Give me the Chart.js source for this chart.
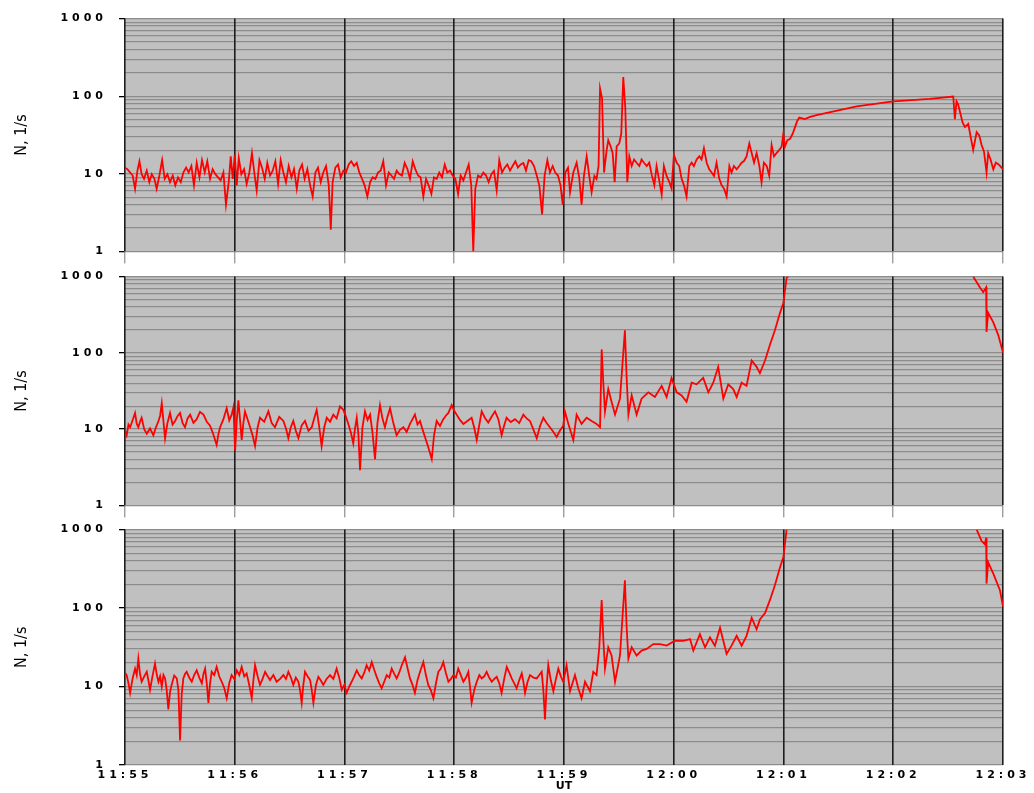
<!DOCTYPE html>
<html lang="en">
<head>
<meta charset="UTF-8" />
<title>N, 1/s  11:55 - 12:03 UT</title>
<script src="https://cdn.jsdelivr.net/npm/chart.js@4"></script>
<style>
  body { margin: 0; background: #fff; }
  .wrap { position: relative; width: 1034px; height: 793px; }
  .panel { position: absolute; left: 0; width: 1034px; }
  #p1 { top: 0; height: 270px; }
  #p2 { top: 258px; height: 266px; }
  #p3 { top: 511px; height: 282px; }
</style>
</head>
<body>
<div class="wrap">
  <div class="panel" id="p1"><canvas id="c1"></canvas></div>
  <div class="panel" id="p2"><canvas id="c2"></canvas></div>
  <div class="panel" id="p3"><canvas id="c3"></canvas></div>
</div>
<script>
// time axis: seconds after 11:55:00 UT
const xTickLabels = ['11:55', '11:56', '11:57', '11:58', '11:59', '12:00', '12:01', '12:02', '12:03'];
const yTickLabels = ['1', '10', '100', '1000'];
const yTitle = 'N, 1/s';
const decadeSteps = [1, 2, 3, 4, 5, 6, 7, 8, 9];
const decades = [1, 10, 100];

// [seconds, count rate N (1/s)]
const panel1 = [
  [0,12],[1.3,11.5],[2.8,10.4],[4.2,9.5],[5.5,6.4],[6.8,11],[7.9,14.5],[9.1,9.9],[10.4,8.6],[11.9,11],
  [13.3,7.8],[14.6,9.9],[16.1,8.6],[17.3,6.4],[18.8,9.5],[20.3,15],[21.7,8.6],[23.2,9.9],[24.6,7.8],[26.1,9.5],
  [27.5,7.1],[29,9],[30.5,7.8],[31.9,10.4],[33.4,12],[34.8,10.4],[36.3,12.6],[37.7,7.1],[39.2,13.8],[40.7,9],
  [42.1,15],[43.6,10.4],[45,14.5],[46.5,8.6],[47.9,11.5],[49.4,9.9],[50.9,9],[52.3,8.2],[53.8,10.4],[55.2,4],
  [56.7,7.8],[57.8,16.8],[58.9,8.6],[60,17.6],[61.1,7.1],[62.2,16],[63.6,9.9],[65.1,11.5],[66.5,7.4],[68,10.4],
  [69.4,18.5],[70.9,9.5],[72,6.1],[73.5,15],[74.9,12],[76.4,8.6],[77.8,13.8],[79.3,9.5],[80.7,10.9],[82.2,14.5],
  [83.7,7.4],[85.1,15],[86.6,10.4],[88,7.8],[89.5,12.6],[91,9],[92.4,11.5],[93.9,6.4],[95.3,11],[96.8,13.2],
  [98.2,8.6],[99.7,11.5],[101.2,7.1],[102.6,5.1],[104.1,10.4],[105.5,12],[107,7.8],[108.4,10.4],[109.9,12.6],[111.4,7.1],
  [112.5,1.9],[113.5,7.8],[115,12],[116.5,13.2],[117.9,9],[119.4,11],[120.8,10.4],[122.3,13.2],[123.7,14.5],[125.2,12.6],
  [126.7,13.8],[128.1,10.4],[129.6,8.6],[131,7.1],[132.5,5.1],[134,7.8],[135.4,9],[136.9,8.6],[138.3,10.4],[139.8,11],
  [141.2,14.5],[142.7,7.1],[144.2,10.4],[145.6,9.5],[147.1,8.6],[148.5,11],[150,9.9],[151.4,9.5],[152.9,13.8],[154.4,11.5],
  [155.8,8.6],[157.3,14.5],[158.7,11.5],[160.2,9.5],[161.6,9],[163.1,5.1],[164.6,8.6],[166,7.1],[167.5,5.5],[168.9,9],
  [170.4,8.6],[171.8,10.4],[173.3,9],[174.8,13.2],[176.2,10.4],[177.7,11],[179.1,9.5],[180.6,8.6],[182.1,5.5],[183.5,9.5],
  [185,8.2],[186.4,10.4],[187.9,13.2],[189.3,7.1],[190.4,1],[191.5,6.4],[193,9.5],[194.4,9],[195.9,10.4],[197.4,9.5],
  [198.8,7.8],[200.3,9.9],[201.7,10.9],[203.2,6.1],[204.6,15],[206.1,10.4],[207.6,12],[209,13.2],[210.5,11],[211.9,12.6],
  [213.4,14.5],[214.8,12],[216.3,13.2],[217.8,13.8],[219.2,11],[220.7,15],[222.1,14.5],[223.6,12.6],[225.1,9.5],[226.5,7.1],
  [228,3],[229.4,9.5],[230.9,15],[232.3,10.4],[233.8,12.6],[235.2,10.4],[236.7,9.5],[238.1,7.1],[239.3,4],[240.7,10.4],
  [242.2,12],[243.3,5.8],[245.1,10.4],[246.9,13.9],[248.4,8.6],[249.6,4],[250.9,9.4],[252.4,16.8],[253.8,9.4],[255.1,5.8],
  [256.6,9.4],[257.8,8.6],[258.9,12.6],[259.7,126],[260.8,94],[261.9,10.4],[263.3,20],[264.2,27.1],[265.5,22.5],[266.6,18.5],
  [267.7,7.8],[268.8,22.5],[270.2,24.6],[271.3,32.8],[272.4,176],[273.5,71],[274.6,7.8],[275.7,16.8],[277,12.6],[278.3,15.3],
  [279.7,13.9],[281.2,12.6],[282.4,15.3],[283.7,13.9],[285.2,12.6],[286.6,13.9],[288.1,9.4],[289.4,7.1],[290.6,12.6],[291.9,8.6],
  [293.4,5.4],[294.6,12.6],[296.1,9.4],[297.6,7.8],[298.8,6.5],[300.1,17.6],[301.6,13.9],[303,12.6],[304.3,8.6],[305.6,7.1],
  [307,5.1],[308.5,12.6],[309.8,13.9],[311,12.6],[312.5,15.3],[314,16.8],[315.2,15.3],[316.5,21.3],[318,13.9],[319.4,11.4],
  [320.7,10.4],[322,9.4],[323.4,13.9],[324.9,8.6],[326.2,7.1],[327.4,6.5],[328.9,5.1],[330.4,12.6],[331.6,10.4],[332.9,12.6],
  [334.4,11.4],[335.8,12.6],[337.1,13.9],[338.4,14.6],[339.8,16.8],[341.3,24.6],[342.6,18.5],[343.9,13.9],[345.3,18.5],[346.8,12.6],
  [348,7.8],[349.3,13.9],[350.8,12.6],[352.2,9.4],[353.5,23.5],[354.8,16.8],[356.2,18.5],[357.7,20.3],[359,22.5],[359.9,32.8],
  [360.8,22.5],[362.1,27.1],[363.5,28],[365,32.8],[366.3,40],[367.5,48],[368.6,53],[371.7,50.6],[374.5,54],[378.1,57],
  [400,74],[420,86],[440,92.5],[452.8,99],[453.7,50.6],[454.6,86],[455.5,78],[456.4,64],[457.9,46],[459.2,40],
  [461,44],[462.3,30],[463.7,20.3],[465.6,34.5],[467,31.3],[468.3,23.5],[469.6,19.4],[471,10.4],[471.9,18.5],[473.2,15.3],
  [474.7,11.4],[476.1,13.9],[477.6,13.2],[479.2,12],[480,11.4]
];

const panel2 = [
  [0,9.6],[0.9,8.3],[1.9,11.5],[2.8,10.6],[4.1,13],[5.5,16.3],[6.4,11.8],[7.3,10.6],[8.2,12.5],[9.1,14.1],
  [10.5,10],[11.9,8.7],[13.7,10.2],[15.5,8.3],[16.9,10.5],[18.3,12.8],[19.2,15],[20.1,21.8],[21.9,7.6],[23.2,12],
  [24.6,16.3],[26,11.5],[27.4,12.8],[28.7,14.8],[30.1,16.3],[31.5,12],[32.8,10.6],[34.2,13.8],[35.6,15.5],[37.4,12.1],
  [39.2,13.5],[41,16.8],[42.9,15.5],[44.7,12.5],[46.5,11.1],[48.3,8.5],[50.1,6.2],[51,8.4],[52,10.6],[53.8,13.5],
  [55.6,18.8],[57,13],[58.3,15.5],[59.3,19.5],[60.2,5.2],[61.1,13],[62,23.9],[63.8,7.2],[64.7,12],[65.6,17.1],
  [67,13.5],[68.4,10.6],[69.8,8.2],[71.1,6],[72.5,10.5],[73.8,14.1],[76.1,12.5],[78.4,17.1],[80.2,12],[82,10.6],
  [84.3,14.5],[86.6,12.8],[88,10.2],[89.3,7.6],[90.6,10.5],[92,12.8],[93.4,9.5],[94.8,7.6],[96.6,11.2],[98.4,12.8],
  [100.3,9.5],[102.1,10.6],[103.5,14],[104.8,17.9],[106.1,11],[107.5,6],[108.9,10.5],[110.3,14.1],[112.1,12.5],[113.9,15.5],
  [115.7,13.8],[117.5,19.8],[119.4,17.9],[120.8,14.5],[122.1,11.7],[123.5,9],[124.8,6.5],[125.7,10],[126.7,14.1],[127.6,8.5],
  [128.5,2.9],[129.8,10.5],[131.2,17.1],[132.6,13.2],[134,15.5],[135.3,9],[136.7,4.05],[138,12],[139.4,20.7],[140.7,14],
  [142.1,10.6],[143.5,14.5],[144.9,18.8],[146.7,12],[148.5,8.3],[150.3,9.8],[152.2,10.6],[154,9.2],[155.8,11.7],[157.2,13.5],
  [158.5,15.5],[159.9,11.5],[161.3,12.8],[162.6,10],[164,7.9],[165.8,5.8],[167.7,4.05],[169,8.5],[170.4,12.8],[172.2,11],
  [174,13.5],[175.4,15],[176.8,16.3],[178.6,20.7],[179.9,17.5],[181.3,15.5],[183.1,13.2],[185,11.7],[187.2,12.8],[189.5,14.1],
  [190.9,10.5],[192.3,7.2],[193.6,11],[195,17.1],[196.8,14],[198.6,12.2],[200.4,14.5],[202.3,17.1],[204.1,13.5],[205.9,8.3],
  [207.2,11],[208.6,14.1],[210.9,12.4],[213.2,13.5],[215.5,12],[217.8,15.5],[219.6,13.8],[221.4,12.8],[223.2,10],[225.1,7.6],
  [226.9,11],[228.7,14.1],[230.5,12],[232.3,10.6],[234.2,9.2],[236,7.9],[237.8,9.6],[239.6,11.1],
  [240.5,17.1],[242.4,11.7],[245.1,7.2],[246.9,15.5],[249.6,11.7],[252.4,14.1],[255.1,12.8],[257.8,11.7],[259.7,10.6],
  [260.6,111],[261.5,40],[262.4,17.1],[264.2,33.5],[266,22.8],[267.9,15.5],[270.6,25.1],[273.3,198],[274.2,50],[275.2,15.5],
  [277,27.7],[279.7,15.5],[282.4,25.1],[286.1,30.4],[289.7,26.4],[293.4,36.9],[296.1,26.4],[298.8,46.9],[301.6,30.4],[304.3,27.7],
  [307,22.8],[309.8,40.6],[312.5,38.7],[316.1,46.9],[318.9,30.4],[321.6,40.6],[324.3,65.6],[327.1,25.1],[329.8,38.7],[332.5,33.5],
  [334.4,26.4],[337.1,40.6],[339.8,36.9],[342.6,79.4],[345.3,65.6],[347.1,54.1],[349.9,79.4],[352.6,128],[355.3,198],[358.1,335],
  [359.9,447],[361.7,962],[362.6,1000],[412,null],[463.7,1000],[467.4,722],[469.2,625],[470.8,722],[471,188],[471.9,335],
  [474.7,251],[477.4,171],[480,101]
];

const panel3 = [
  [0,15],[0.9,14],[1.9,11],[2.8,8.3],[4.1,12.5],[5.5,16.9],[6.4,14],[7.3,22.6],[8.2,14.5],[9.1,11.5],
  [10.5,13.5],[11.9,15.4],[12.8,12],[13.7,9.1],[15,13.5],[16.4,19.6],[17.4,14],[18.3,11.5],[19.2,13.5],[20.1,10],
  [21,14],[21.9,12.7],[22.8,9],[23.7,5.1],[24.6,8.5],[25.5,10.5],[26.9,13.8],[28.3,12.7],[29.2,9],[30.1,2.05],
  [31,8],[31.9,12.7],[32.8,14.5],[33.7,15.4],[35.1,13],[36.5,11.5],[37.8,14],[39.2,16.1],[40.6,13],[42,11],
  [42.9,14.5],[43.8,16.9],[44.7,11],[45.6,6.2],[46.5,11],[47.4,15.4],[48.8,14],[50.1,17.8],[51.5,13.5],[52.9,11.5],
  [54.3,9.5],[55.6,7.1],[57,11],[58.3,14],[59.7,12.5],[61.1,16.1],[62.5,14],[63.8,17.8],[65.2,13.5],[66.5,14.7],
  [67.9,10.5],[69.3,7.1],[70.2,12],[71.1,18.7],[72.5,13.5],[73.8,10.5],[75.2,12.5],[76.6,15.4],[78,13.5],[79.3,12.1],
  [81.1,14],[82.9,11.5],[84.8,12.5],[86.6,14],[88,12.5],[89.3,15.4],[90.7,13],[92,10.5],[93.4,13],[94.8,11.5],
  [95.7,9],[96.6,6.2],[97.5,10.5],[98.4,15.4],[99.8,13.5],[101.2,12.1],[102.1,9],[103,6.2],[104.4,10.5],[105.7,13.3],
  [107,12],[108.4,10.5],[110.2,12.5],[112.1,14],[113.9,12.5],[115.7,16.9],[117.1,13],[118.5,9.1],[119.9,10.5],[121.2,8.3],
  [122.6,10],[123.9,11.5],[125.3,13.5],[126.7,16.1],[128,14],[129.4,12.7],[130.8,15],[132.1,18.7],[133.5,16],[134.9,20.5],
  [136.2,16.5],[137.6,13.3],[139,11],[140.3,9.5],[141.7,11.5],[143.1,14],[144.5,13],[145.8,16.9],[147.2,14.5],[148.5,12.7],
  [149.9,15],[151.3,18.7],[153.1,23.7],[154.5,17],[155.8,12.7],[157.2,10.5],[158.5,8.3],[159.9,12],[161.3,15.4],[163.1,20.5],
  [164.5,14],[165.8,10.5],[167.2,9],[168.6,7.1],[170,11],[171.3,15.4],[172.7,17],[174,20.5],[175.4,15],[176.8,11.5],
  [178.2,12.5],[179.5,14],[180.9,13],[182.2,16.9],[183.6,14],[185,11.5],[186.4,13],[187.7,15.4],[188.6,10],[189.5,6.2],
  [190.9,9],[192.3,11.5],[193.7,14],[195,12.7],[196.4,13.5],[197.7,15.4],[199.1,13],[200.5,11.5],[201.9,12.5],[203.2,13.3],
  [204.6,11],[205.9,8.3],[207.3,12.5],[208.7,17.8],[210.1,15],[211.4,12.7],[212.8,11],[214.1,9.5],[215.5,12],[216.9,14.7],
  [217.8,11.5],[218.7,8.3],[220.1,11.5],[221.4,14],[223.3,13],[225.1,12.7],[226.5,14],[227.8,15.4],[228.7,9],[229.6,3.8],
  [230.5,10],[231.4,18.7],[232.8,12],[234.2,8.7],[235.6,12.5],[236.9,16.9],[238.3,13.5],[239.6,11.5],
  [241.4,18.7],[243.3,8.7],[246,14],[247.8,9.5],[249.6,7.1],[251.5,11.5],[254.2,8.7],[256,15.4],[257.8,14],[259.3,31.6],
  [260.6,127],[261.5,40],[262.4,16.9],[264.2,31.6],[266,24.9],[267.9,11.5],[270.6,24.9],[273.3,226],[274.2,60],[275.2,22.6],
  [277,31.6],[279.7,24.9],[282.4,28.7],[285.2,30.1],[288.8,34.8],[292.5,34.8],[296.1,33.2],[300.7,38.3],[305.2,38.3],[308.9,40.2],
  [310.7,28.7],[314.3,46.4],[317.1,31.6],[319.8,42.2],[322.5,33.2],[325.3,56.2],[328.9,26.1],[331.6,33.2],[334.4,44.3],[337.1,33.2],
  [339.8,44.3],[342.6,75],[345.3,53.6],[347.1,71.4],[349.9,86.6],[352.6,127],[355.3,195],[358.1,332],[359.9,443],[361.7,1000],
  [412,null],[465.6,1000],[468.3,714],[470.1,649],[470.8,788],[471,205],[471.9,383],[474.7,274],[478.3,169],[480,105]
];

// grid values of the log axis: 1..9, 10..90, 100..900, 1000
const yGridValues = decades.flatMap(d => decadeSteps.map(k => k * d)).concat([1000]);

// grey plot area, wide spacing for tick labels, rotated axis title
const panelDecor = {
  id: 'panelDecor',
  beforeDraw(chart) {
    const { ctx, chartArea: a } = chart;
    ctx.save();
    ctx.fillStyle = '#c0c0c0';
    ctx.fillRect(a.left, a.top, a.width, a.height);
    ctx.restore();
    ctx.letterSpacing = '0px';
  },
  afterDatasetsDraw(chart) {
    chart.ctx.letterSpacing = '4px';
  },
  afterDraw(chart) {
    const { ctx, chartArea: a } = chart;
    ctx.save();
    ctx.letterSpacing = '0px';
    ctx.translate(22, (a.top + a.bottom) / 2);
    ctx.rotate(-Math.PI / 2);
    ctx.font = "16px 'Liberation Sans Narrow', 'DejaVu Sans Condensed', sans-serif";
    ctx.fillStyle = '#000';
    ctx.textAlign = 'center';
    ctx.textBaseline = 'middle';
    ctx.fillText(yTitle, 0, 0);
    ctx.restore();
  }
};

function makePanel(canvasId, series, showTime, padTop, padBottom) {
  new Chart(document.getElementById(canvasId), {
    type: 'line',
    data: {
      datasets: [{
        data: series.map(([t, n]) => ({ x: t, y: n })),
        borderColor: '#ff0000',
        borderWidth: 1.8,
        pointRadius: 0,
        tension: 0,
        spanGaps: false
      }]
    },
    options: {
      responsive: true,
      maintainAspectRatio: false,
      animation: false,
      events: [],
      layout: { padding: { left: 0, right: 31, top: padTop, bottom: padBottom } },
      plugins: { legend: { display: false }, tooltip: { enabled: false } },
      scales: {
        x: {
          type: 'linear',
          min: 0,
          max: 480,
          afterFit: s => { s.height = showTime ? 28 : 0; },
          border: { display: false },
          grid: {
            color: '#1e1e1e',
            lineWidth: 1.6,
            drawTicks: !showTime,
            tickLength: 12,
            tickColor: '#777',
            tickWidth: 1,
            z: 0
          },
          ticks: {
            display: showTime,
            stepSize: 60,
            autoSkip: false,
            maxRotation: 0,
            padding: 4,
            z: 1,
            color: '#000',
            font: { family: "'DejaVu Sans', sans-serif", size: 11, weight: 'bold' },
            callback: (v, i) => xTickLabels[i]
          },
          title: {
            display: showTime,
            text: 'UT',
            color: '#000',
            padding: { top: 0, bottom: 0 },
            font: { family: "'DejaVu Sans', sans-serif", size: 11, weight: 'bold' }
          }
        },
        y: {
          type: 'logarithmic',
          position: 'left',
          min: 1,
          max: 1000,
          afterFit: s => { s.width = 125; },
          afterBuildTicks: s => { s.ticks = yGridValues.map(v => ({ value: v })); },
          border: { display: false },
          grid: {
            color: '#8c8c8c',
            lineWidth: 1.3,
            tickLength: 6,
            tickColor: c => yTickLabels.includes(String(c.tick.value)) ? '#000' : 'rgba(0,0,0,0)'
          },
          ticks: {
            autoSkip: false,
            padding: 12,
            z: 1,
            color: '#000',
            font: { family: "'DejaVu Sans', sans-serif", size: 11, weight: 'bold' },
            callback: v => yTickLabels.includes(String(v)) ? String(v) : ''
          },
          title: { display: false, text: yTitle }
        }
      }
    },
    plugins: [panelDecor]
  });
}

makePanel('c1', panel1, false, 18, 12);
makePanel('c2', panel2, false, 14, 12);
makePanel('c3', panel3, true, 14, 0);
</script>
</body>
</html>
